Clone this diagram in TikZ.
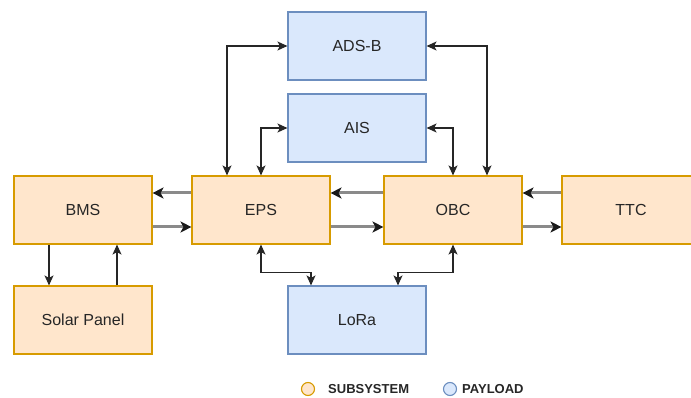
\documentclass[tikz,border=0pt]{standalone}
\usepackage{fontspec}
\setmainfont{Liberation Sans}
\usetikzlibrary{arrows.meta}

\definecolor{subfill}{HTML}{FFE6CC}
\definecolor{subline}{HTML}{D79B00}
\definecolor{payfill}{HTML}{DAE8FC}
\definecolor{payline}{HTML}{6C8EBF}
\definecolor{busgray}{HTML}{8A8A8A}

\begin{document}
\begin{tikzpicture}[x=1pt,y=1pt,
    box/.style={draw, line width=1.1pt, minimum width=138pt, minimum height=68pt,
        inner sep=0pt, font=\fontsize{16}{19}\selectfont, text=black!85},
    subsys/.style={box, draw=subline, fill=subfill},
    payload/.style={box, draw=payline, fill=payfill},
    busline/.style={draw=busgray, line width=3pt, -{Stealth[length=11pt,width=11pt,inset=3pt,color=black!90]}},
    link/.style={draw=black!85, line width=1.2pt, -{Stealth[length=10pt,width=9pt,inset=2.5pt]}},
    dlink/.style={link, {Stealth[length=10pt,width=9pt,inset=2.5pt]}-{Stealth[length=10pt,width=9pt,inset=2.5pt]}},
    dot/.style={circle, line width=1.1pt, minimum size=13pt, inner sep=0pt},
    legend/.style={anchor=west, inner sep=3pt, font=\fontsize{13}{15}\selectfont\bfseries, text=black!85}]
    \useasboundingbox (0,0) rectangle (691,-398);
    % payloads
    \node[payload] (adsb) at (357,-46) {ADS-B};
    \node[payload] (ais) at (357,-128) {AIS};
    \node[payload] (lora) at (357,-320) {LoRa};
    % subsystems
    \node[subsys] (bms) at (83,-210) {BMS};
    \node[subsys] (eps) at (261,-210) {EPS};
    \node[subsys] (obc) at (453,-210) {OBC};
    \node[subsys] (ttc) at (631,-210) {TTC};
    \node[subsys] (solar) at (83,-320) {Solar Panel};
    % power / data bus
    \draw[busline] ([yshift=17]eps.west) -- ([yshift=17]bms.east);
    \draw[busline] ([yshift=-17]bms.east) -- ([yshift=-17]eps.west);
    \draw[busline] ([yshift=17]obc.west) -- ([yshift=17]eps.east);
    \draw[busline] ([yshift=-17]eps.east) -- ([yshift=-17]obc.west);
    \draw[busline] ([yshift=17]ttc.west) -- ([yshift=17]obc.east);
    \draw[busline] ([yshift=-17]obc.east) -- ([yshift=-17]ttc.west);
    % battery
    \draw[link] ([xshift=-34]bms.south) -- ([xshift=-34]solar.north);
    \draw[link] ([xshift=34]solar.north) -- ([xshift=34]bms.south);
    % payload links
    \draw[dlink] ([xshift=-34]eps.north) |- (adsb.west);
    \draw[dlink] (eps.north) |- (ais.west);
    \draw[dlink] (adsb.east) -| ([xshift=34]obc.north);
    \draw[dlink] (ais.east) -| (obc.north);
    \draw[dlink] (eps.south) -- ++(0,-28) -| ([xshift=-46]lora.north);
    \draw[dlink] (obc.south) -- ++(0,-28) -| ([xshift=41]lora.north);
    % legend
    \node[dot, draw=subline, fill=subfill] (subdot) at (308,-389) {};
    \node[legend] (sublbl) at (325,-389) {SUBSYSTEM};
    \node[dot, draw=payline, fill=payfill] (paydot) at (450,-389) {};
    \node[legend] (paylbl) at (459,-389) {PAYLOAD};
\end{tikzpicture}
\end{document}
